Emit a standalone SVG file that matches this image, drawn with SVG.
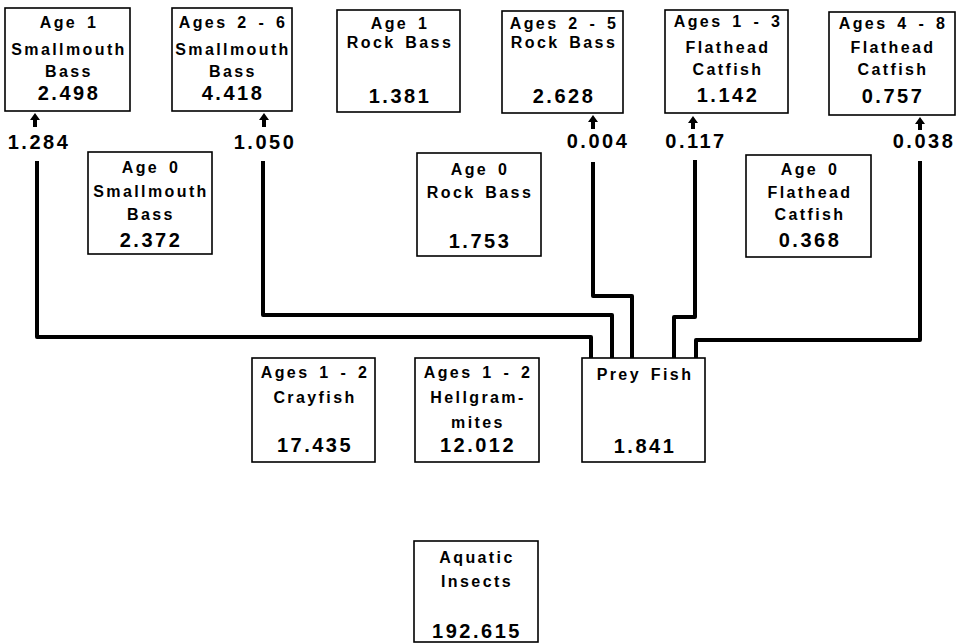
<svg xmlns="http://www.w3.org/2000/svg" width="959" height="644" viewBox="0 0 959 644">
<style>
rect.box{fill:#fff;stroke:#000;stroke-width:1.6}
text{font-family:"Liberation Sans",Arial,sans-serif;font-weight:bold;fill:#000;text-anchor:middle}
text.t{font-size:16px;letter-spacing:2.4px;word-spacing:3px}
text.n{font-size:20px;letter-spacing:2.5px}
.conn path.l{fill:none;stroke:#000;stroke-width:4;stroke-linejoin:round}
.conn path.a{fill:#000}
</style>
<rect width="959" height="644" fill="#fff"/>
<g id="smb1">
<rect class="box" x="5" y="8" width="125" height="103"/>
<text class="t" x="69" y="28">Age 1</text>
<text class="t" x="69" y="55">Smallmouth</text>
<text class="t" x="69" y="77">Bass</text>
<text class="n" x="69" y="100">2.498</text>
</g>
<g id="smb26">
<rect class="box" x="172" y="8" width="120" height="103"/>
<text class="t" x="233" y="28">Ages 2 - 6</text>
<text class="t" x="233" y="55">Smallmouth</text>
<text class="t" x="233" y="77">Bass</text>
<text class="n" x="233" y="100">4.418</text>
</g>
<g id="rb1">
<rect class="box" x="337" y="10" width="123" height="102"/>
<text class="t" x="400" y="29">Age 1</text>
<text class="t" x="400" y="48">Rock Bass</text>
<text class="n" x="400" y="103">1.381</text>
</g>
<g id="rb25">
<rect class="box" x="502" y="11" width="121" height="102"/>
<text class="t" x="564" y="29">Ages 2 - 5</text>
<text class="t" x="564" y="48">Rock Bass</text>
<text class="n" x="564" y="103">2.628</text>
</g>
<g id="fc13">
<rect class="box" x="665" y="10" width="123" height="103"/>
<text class="t" x="728" y="27">Ages 1 - 3</text>
<text class="t" x="728" y="53">Flathead</text>
<text class="t" x="728" y="75">Catfish</text>
<text class="n" x="728" y="102">1.142</text>
</g>
<g id="fc48">
<rect class="box" x="829" y="12" width="126" height="103"/>
<text class="t" x="893" y="29">Ages 4 - 8</text>
<text class="t" x="893" y="53">Flathead</text>
<text class="t" x="893" y="75">Catfish</text>
<text class="n" x="893" y="103">0.757</text>
</g>
<g id="smb0">
<rect class="box" x="88" y="152" width="124" height="102"/>
<text class="t" x="151" y="173">Age 0</text>
<text class="t" x="151" y="197">Smallmouth</text>
<text class="t" x="151" y="220">Bass</text>
<text class="n" x="151" y="247">2.372</text>
</g>
<g id="rb0">
<rect class="box" x="417" y="153" width="124" height="103"/>
<text class="t" x="480" y="175">Age 0</text>
<text class="t" x="480" y="198">Rock Bass</text>
<text class="n" x="480" y="248">1.753</text>
</g>
<g id="fc0">
<rect class="box" x="746" y="155" width="125" height="102"/>
<text class="t" x="810" y="175">Age 0</text>
<text class="t" x="810" y="198">Flathead</text>
<text class="t" x="810" y="220">Catfish</text>
<text class="n" x="810" y="247">0.368</text>
</g>
<g id="crayfish">
<rect class="box" x="252" y="358" width="123" height="104"/>
<text class="t" x="315" y="378">Ages 1 - 2</text>
<text class="t" x="315" y="403">Crayfish</text>
<text class="n" x="315" y="452">17.435</text>
</g>
<g id="hellgrammites">
<rect class="box" x="415" y="358" width="124" height="104"/>
<text class="t" x="478" y="378">Ages 1 - 2</text>
<text class="t" x="478" y="403">Hellgram-</text>
<text class="t" x="478" y="428">mites</text>
<text class="n" x="478" y="452">12.012</text>
</g>
<g id="preyfish">
<rect class="box" x="582" y="358" width="123" height="104"/>
<text class="t" x="645" y="380">Prey Fish</text>
<text class="n" x="645" y="453">1.841</text>
</g>
<g id="insects">
<rect class="box" x="414" y="541" width="124" height="101"/>
<text class="t" x="477" y="563">Aquatic</text>
<text class="t" x="477" y="587">Insects</text>
<text class="n" x="477" y="638">192.615</text>
</g>
<g class="conn" id="connectors">
<path class="l" d="M37,161 V337 H591 V358"/>
<path class="l" d="M263,161 V315 H612 V358"/>
<path class="l" d="M593,162 V296 H632 V358"/>
<path class="l" d="M695,160 V317 H674 V358"/>
<path class="l" d="M920,161 V340 H696 V358"/>
<path class="a" d="M35,113 L30,120 L33,120 L33,127 L37,127 L37,120 L40,120 Z"/>
<path class="a" d="M264,113 L259,120 L262,120 L262,127 L266,127 L266,120 L269,120 Z"/>
<path class="a" d="M593,115 L588,122 L591,122 L591,129 L595,129 L595,122 L598,122 Z"/>
<path class="a" d="M693,116 L688,123 L691,123 L691,129 L695,129 L695,123 L698,123 Z"/>
<path class="a" d="M920,117 L915,124 L918,124 L918,130 L922,130 L922,124 L925,124 Z"/>
<text class="n" x="39" y="149">1.284</text>
<text class="n" x="265" y="149">1.050</text>
<text class="n" x="598" y="148">0.004</text>
<text class="n" x="696" y="148">0.117</text>
<text class="n" x="924" y="148">0.038</text>
</g>
</svg>
